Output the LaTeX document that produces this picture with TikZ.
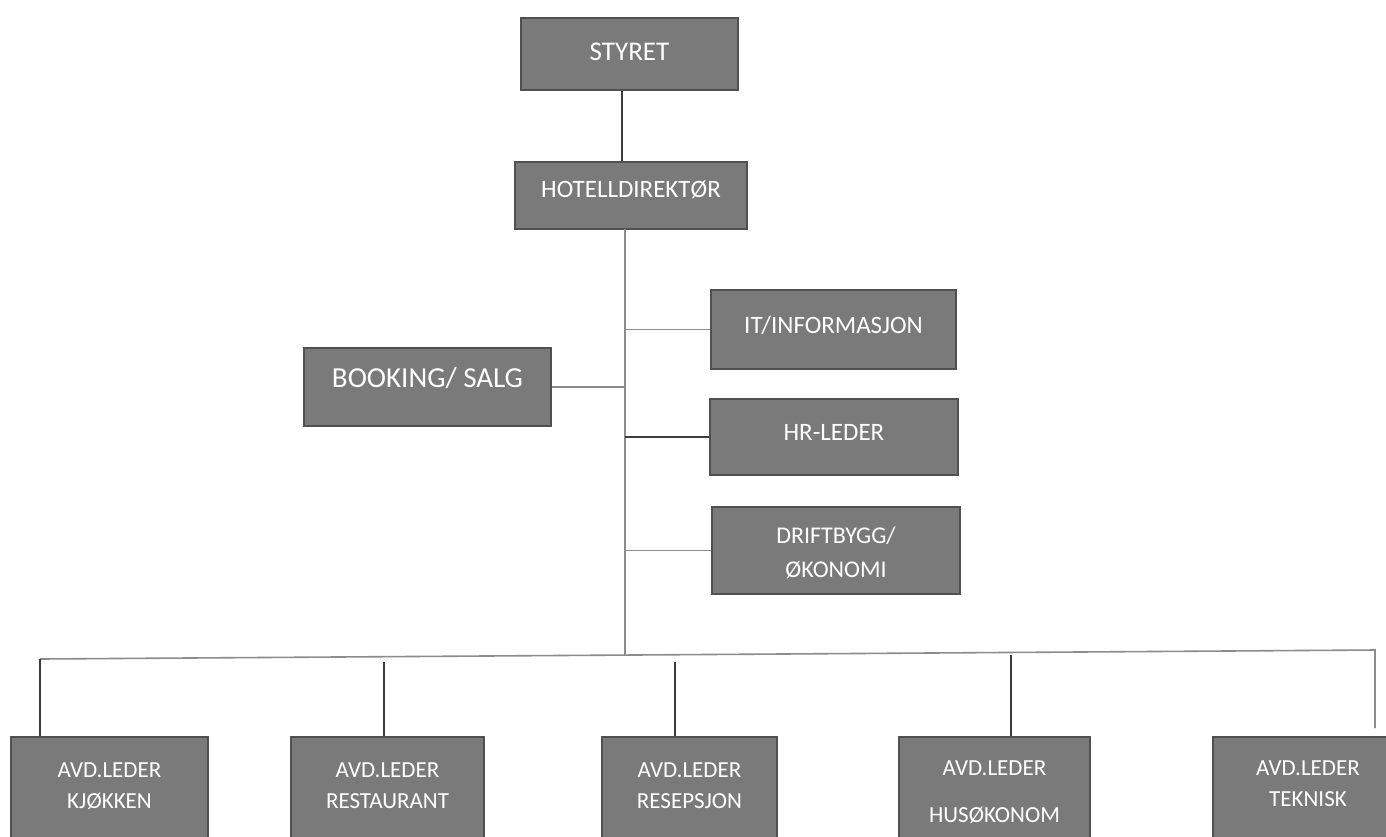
\documentclass[tikz,border=0pt]{standalone}
\usepackage{fontspec}
\setmainfont{Carlito}
\definecolor{boxfill}{HTML}{7A7A7A}
\definecolor{boxline}{HTML}{505050}
\definecolor{lineg}{HTML}{8C8C8C}
\definecolor{lined}{HTML}{3C3C3C}
\newcommand{\bl}[2]{\raisebox{#1pt}[0pt][0pt]{\begin{tabular}[b]{@{}c@{}}#2\end{tabular}}}
\tikzset{
 orgbox/.style={draw=boxline, line width=2pt, fill=boxfill, text=white, inner sep=0pt, rectangle},
 topfont/.style={font=\fontsize{25}{34}\selectfont},
 lowbox/.style={orgbox, minimum height=120pt, font=\fontsize{23}{31}\selectfont},
 conn/.style={draw=lineg, line width=1.6pt},
 connd/.style={draw=lined, line width=1.6pt},
}
\begin{document}
\begin{tikzpicture}[x=1pt,y=-1pt]
\useasboundingbox (0,0) rectangle (1386,836);
\clip (0,0) rectangle (1386,836);
\fill[white] (0,0) rectangle (1386,836);

% top boxes
\node[orgbox, minimum width=217pt, minimum height=72pt, font=\fontsize{27}{32}\selectfont] (sty) at (629.5,54) {\bl{-6}{STYRET}};
\node[orgbox, topfont, minimum width=232pt, minimum height=67pt] (hd) at (631,195.5) {\bl{-1.5}{HOTELLDIREKTØR}};
\node[orgbox, topfont, minimum width=245pt, minimum height=79pt] (it) at (833.5,329.5) {\bl{-3.5}{IT/INFORMASJON}};
\node[orgbox, minimum width=247pt, minimum height=78pt, font=\fontsize{29}{34}\selectfont] (bs) at (427.5,387) {\bl{0}{BOOKING/ SALG}};
\node[orgbox, topfont, minimum width=248pt, minimum height=76pt] (hr) at (834,437) {\bl{-3}{HR-LEDER}};
\node[orgbox, minimum width=248pt, minimum height=87pt, font=\fontsize{24}{34}\selectfont] (dr) at (836,550.5) {\bl{-26.5}{DRIFTBYGG/\\ØKONOMI}};

% bottom boxes
\node[lowbox, minimum width=197pt] (kj) at (109.5,797) {\bl{-11}{AVD.LEDER\\KJØKKEN}};
\node[lowbox, minimum width=193pt] (re) at (387.5,797) {\bl{-11}{AVD.LEDER\\RESTAURANT}};
\node[lowbox, minimum width=175pt] (rs) at (689.5,797) {\bl{-11}{AVD.LEDER\\RESEPSJON}};
\node[lowbox, minimum width=191pt] (hu) at (994.5,797) {\bl{-25}{AVD.LEDER\\[16pt]HUSØKONOM}};
\node[lowbox, minimum width=190pt] (te) at (1308,797) {\bl{-9}{AVD.LEDER\\TEKNISK}};

% coordinates of the connector skeleton
\coordinate (t0) at (625,229);
\coordinate (t1) at (625,655);
\coordinate (busL) at (40,659);
\coordinate (busR) at (1375,650);
\coordinate (teEnd) at (1375,728);
\coordinate (d2) at (384,662);
\coordinate (d3) at (675,662);
\coordinate (d4) at (1011,655);

% connectors
\draw[connd] (sty.south -| 622,0) -- (hd.north -| 622,0);
\draw[conn] (t0) -- (t1);
\draw[conn] (bs.east) -- (bs.east -| t0);
\draw[conn] (it.west) -- (it.west -| t0);
\draw[connd] (hr.west) -- (hr.west -| t0);
\draw[conn] (dr.west) -- (dr.west -| t0);
\draw[conn] (busL) -- (busR) -- (teEnd);
\draw[connd] (busL) -- (busL |- kj.north);
\draw[connd] (d2) -- (d2 |- re.north);
\draw[connd] (d3) -- (d3 |- rs.north);
\draw[connd] (d4) -- (d4 |- hu.north);
\end{tikzpicture}
\end{document}
